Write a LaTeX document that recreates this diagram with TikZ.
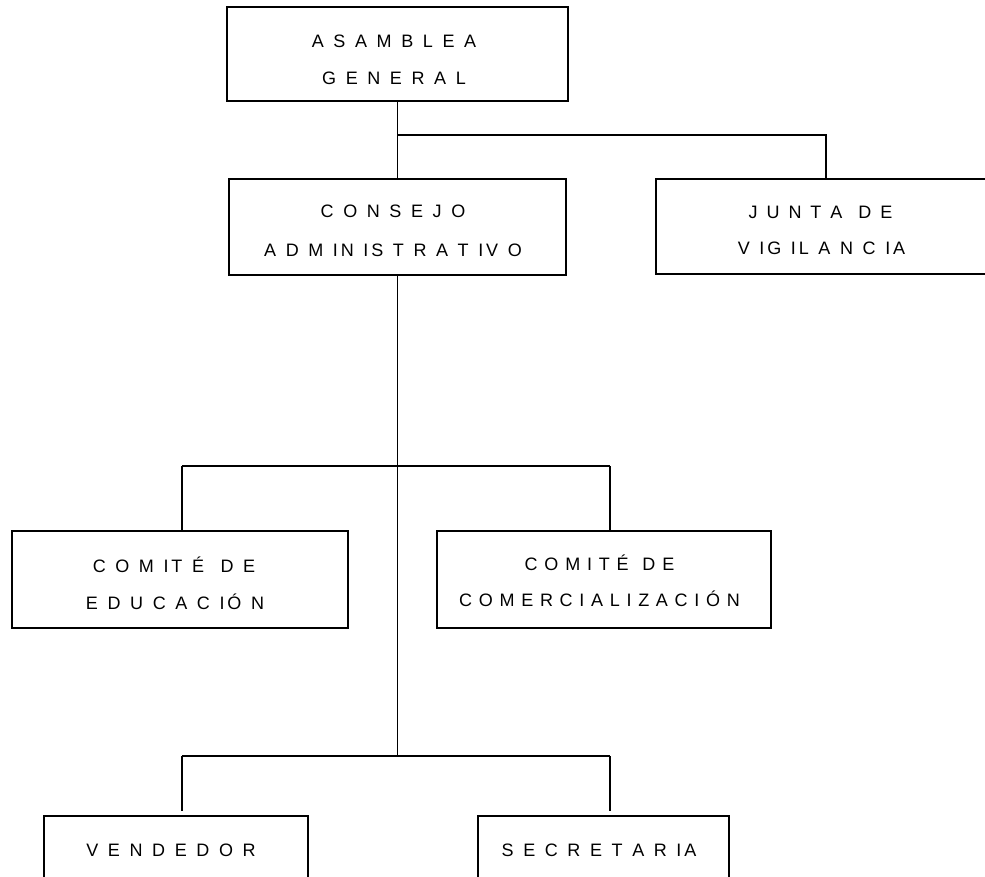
\documentclass[tikz,border=0pt]{standalone}
\usepackage{fontspec}
\setmainfont{Liberation Sans}
\newfontfamily\spacedfont[LetterSpace=16]{Liberation Sans}
\newcommand\orglblfont{\spacedfont\fontsize{18}{22}\selectfont\spaceskip 9.6pt\relax}
\newcommand\orgjuntasp{\spaceskip 9.0pt\relax}
\newcommand\orgmidsp{\spaceskip 6.8pt\relax}
\newcommand\orgtightsp{\spaceskip 6.7pt\relax}
\newcommand\orgwordgap{\hspace{7pt}}
\begin{document}
\begin{tikzpicture}[x=1pt,y=-1pt,
  box/.style={draw,line width=1.3pt,rectangle,inner sep=0pt},
  conn/.style={line width=1.2pt},
  lbl/.style={anchor=base,inner sep=0pt,font=\orglblfont}]
\useasboundingbox (0,0) rectangle (985,876);
\fill[white] (0,0) rectangle (985,876);
% boxes
\node[box,minimum width=341pt,minimum height=94pt] (asamblea) at (397.5,54) {};
\node[box,minimum width=337pt,minimum height=96pt] (consejo) at (397.5,227) {};
\node[box,minimum width=340pt,minimum height=95pt] (junta) at (826,226.5) {};
\node[box,minimum width=336pt,minimum height=97pt] (educ) at (180,579.5) {};
\node[box,minimum width=334pt,minimum height=97pt] (comer) at (604,579.5) {};
\node[box,minimum width=264pt,minimum height=64pt] (vend) at (176,848) {};
\node[box,minimum width=251pt,minimum height=64pt] (secr) at (603.5,848) {};
% labels
\node[lbl] (asamblea1) at (394,47.8) {A S A M B L E A};
\node[lbl] (asamblea2) at (394,84.5) {G E N E R A L};
\node[lbl] (consejo1) at (393,217.8) {C O N S E J O};
\node[lbl] (consejo2) at (393,256.2) {A D M IN IS T R A T IV O};
\node[lbl,font=\orglblfont\orgjuntasp] (junta1) at (820.5,218.8) {J U N T A \orgwordgap D E};
\node[lbl] (junta2) at (821.5,254.8) {V IG IL A N C IA};
\node[lbl] (educ1) at (174,572.8) {C O M IT É \orgwordgap D E};
\node[lbl] (educ2) at (175,609.5) {E D U C A C IÓ N};
\node[lbl,font=\orglblfont\orgmidsp] (comer1) at (599.5,570.7) {C O M I T É \orgwordgap D E};
\node[lbl,font=\orglblfont\orgtightsp] (comer2) at (599.5,606.8) {C O M E R C I A L I Z A C I Ó N};
\node[lbl] (vend1) at (171,856.8) {V E N D E D O R};
\node[lbl] (secr1) at (599,856.8) {S E C R E T A R IA};
% junctions
\coordinate (j0) at (397.5,135);
\coordinate (j1l) at (182,466);
\coordinate (j1r) at (610,466);
\coordinate (j1c) at (397.5,466);
\coordinate (j2l) at (182,756);
\coordinate (j2r) at (610,756);
\coordinate (j2c) at (397.5,756);
% connectors
\draw[conn] (asamblea.south) -- (consejo.north);
\draw[conn] (j0) -| (junta.north);
\draw[conn] (consejo.south) -- (j2c);
\draw[conn] (j1l) -- (j1r);
\draw[conn] (j1l) -- (j1l |- educ.north);
\draw[conn] (j1r) -- (j1r |- comer.north);
\draw[conn] (j2l) -- (j2r);
\draw[conn,shorten >=4pt] (j2l) -- (j2l |- vend.north);
\draw[conn,shorten >=4pt] (j2r) -- (j2r |- secr.north);
\end{tikzpicture}
\end{document}
